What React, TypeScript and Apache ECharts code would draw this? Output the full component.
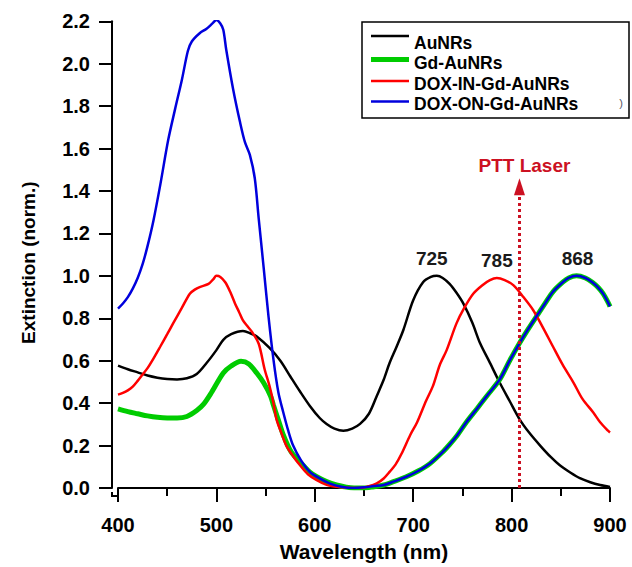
import React, { useEffect, useRef } from "react";
import * as echarts from "echarts";

// ---- Data ----
const xTicks = [400, 500, 600, 700, 800, 900];

const auWl = [400, 410, 420, 430, 440, 450, 460, 470, 480, 490, 500, 507, 515, 527, 535, 541, 554, 565, 575, 585, 595, 605, 612, 620, 629, 638, 646, 655, 663, 670, 676, 683, 690, 700, 710, 718, 724, 730, 737, 744, 751, 760, 768, 778, 788, 798, 808, 818, 829, 840, 849, 860, 870, 880, 890, 900];
const auVal = [0.577, 0.56, 0.545, 0.53, 0.52, 0.514, 0.512, 0.517, 0.537, 0.589, 0.65, 0.698, 0.725, 0.74, 0.728, 0.714, 0.66, 0.6, 0.527, 0.455, 0.387, 0.33, 0.302, 0.28, 0.27, 0.28, 0.302, 0.35, 0.434, 0.51, 0.589, 0.665, 0.745, 0.885, 0.97, 0.995, 1.0, 0.99, 0.962, 0.92, 0.869, 0.78, 0.682, 0.59, 0.496, 0.41, 0.325, 0.26, 0.2, 0.145, 0.107, 0.072, 0.045, 0.027, 0.014, 0.005];

const gdWl = [400, 410, 420, 430, 440, 450, 460, 470, 480, 487, 495, 507, 515, 525, 533, 541, 548, 555, 558, 563, 568, 576, 585, 595, 602, 612, 622, 632, 640, 650, 660, 670, 680, 693, 705, 717, 730, 737, 745, 754, 765, 775, 788, 798, 808, 817, 825, 834, 842, 852, 858, 866, 875, 882, 888, 893, 898, 900];
const gdVal = [0.373, 0.36, 0.35, 0.34, 0.333, 0.33, 0.33, 0.337, 0.365, 0.395, 0.45, 0.542, 0.575, 0.597, 0.585, 0.542, 0.496, 0.434, 0.39, 0.32, 0.25, 0.17, 0.123, 0.075, 0.053, 0.03, 0.014, 0.004, 0.0, 0.0, 0.006, 0.014, 0.03, 0.053, 0.08, 0.115, 0.17, 0.205, 0.25, 0.31, 0.375, 0.435, 0.512, 0.6, 0.682, 0.75, 0.807, 0.87, 0.925, 0.97, 0.99, 1.0, 0.99, 0.97, 0.945, 0.916, 0.875, 0.855];

const inWl = [400, 405, 410, 415, 420, 425, 430, 436, 443, 450, 456, 465, 473, 478, 483, 492, 497, 500, 504, 509, 514, 519, 523, 527, 532, 536, 543, 549, 554, 558, 561, 566, 571, 578, 585, 593, 602, 612, 622, 634, 646, 655, 663, 670, 676, 682, 688, 697, 704, 713, 720, 727, 734, 744, 752, 761, 770, 778, 785, 793, 802, 812, 822, 832, 842, 852, 863, 872, 883, 890, 898, 900];
const inVal = [0.44, 0.448, 0.46, 0.478, 0.505, 0.535, 0.565, 0.61, 0.667, 0.725, 0.776, 0.85, 0.916, 0.935, 0.947, 0.962, 0.985, 1.0, 0.995, 0.97, 0.925, 0.869, 0.83, 0.79, 0.76, 0.737, 0.68, 0.56, 0.48, 0.4, 0.325, 0.26, 0.2, 0.15, 0.107, 0.065, 0.037, 0.015, 0.006, 0.001, 0.0, 0.008, 0.022, 0.045, 0.076, 0.11, 0.16, 0.25, 0.31, 0.41, 0.48, 0.58, 0.65, 0.776, 0.85, 0.916, 0.955, 0.98, 0.99, 0.98, 0.955, 0.9, 0.838, 0.755, 0.667, 0.58, 0.496, 0.42, 0.356, 0.31, 0.27, 0.262];

const onWl = [400, 405, 410, 415, 420, 425, 430, 436, 443, 451, 458, 465, 471, 475, 483, 490, 496, 500, 504, 507, 510, 517, 524, 529, 534, 539, 543, 548, 553, 558, 563, 568, 573, 578, 586, 595, 605, 615, 627, 639, 650, 660, 670, 680, 693, 705, 717, 730, 737, 745, 754, 765, 775, 788, 798, 808, 817, 825, 834, 842, 852, 858, 866, 875, 882, 888, 893, 898, 900];
const onVal = [0.846, 0.87, 0.9, 0.94, 0.99, 1.055, 1.14, 1.26, 1.43, 1.64, 1.786, 1.926, 2.06, 2.105, 2.144, 2.165, 2.19, 2.206, 2.19, 2.16, 2.066, 1.88, 1.725, 1.63, 1.57, 1.46, 1.27, 1.04, 0.807, 0.605, 0.45, 0.356, 0.27, 0.2, 0.13, 0.076, 0.045, 0.022, 0.006, 0.0, 0.003, 0.009, 0.014, 0.03, 0.053, 0.08, 0.115, 0.17, 0.205, 0.25, 0.31, 0.375, 0.435, 0.512, 0.6, 0.682, 0.75, 0.807, 0.87, 0.925, 0.97, 0.99, 1.0, 0.99, 0.97, 0.945, 0.916, 0.875, 0.855];

const seriesNames = ["AuNRs", "Gd-AuNRs", "DOX-IN-Gd-AuNRs", "DOX-ON-Gd-AuNRs"];
const peakLabels = [725, 785, 868];
const laserWl = 808;
const laserTop = 1.42;
const laserText = "PTT Laser";

const FONT = '"Liberation Sans", Arial, sans-serif';

function pairs(xs: number[], ys: number[]) {
  return xs.map((x, i) => [x, ys[i]]);
}

const peakLabel = (text: string, dx: number) => ({
  show: true,
  position: "top" as const,
  distance: 8,
  offset: [dx, 0],
  formatter: text,
  color: "#1a1a1a",
  fontFamily: FONT,
  fontWeight: "bold" as const,
  fontSize: 19,
});

export default function App() {
  const ref = useRef<HTMLDivElement>(null);
  useEffect(() => {
    if (!ref.current) return;
    const chart = echarts.init(ref.current, undefined, { renderer: "svg" });
    const legendRows = [
      { name: seriesNames[0], color: "#000000", w: 2.5, y: 36 },
      { name: seriesNames[1], color: "#00cc00", w: 5, y: 59.5 },
      { name: seriesNames[2], color: "#ff0000", w: 2.5, y: 81 },
      { name: seriesNames[3], color: "#0000dd", w: 2.5, y: 101.5 },
    ];
    const textY = [42.5, 63, 83.5, 104];
    const legendGraphics: any[] = [
      {
        type: "rect",
        shape: { x: 362, y: 22, width: 267, height: 96 },
        style: { fill: "#fff", stroke: "#000", lineWidth: 1.5 },
        z: 10,
      },
    ];
    legendRows.forEach((r, i) => {
      legendGraphics.push({
        type: "line",
        shape: { x1: 371, y1: r.y, x2: 409, y2: r.y },
        style: { stroke: r.color, lineWidth: r.w },
        z: 11,
      });
      legendGraphics.push({
        type: "text",
        x: 414,
        y: textY[i],
        style: {
          text: r.name,
          fill: "#000",
          font: `bold 17.5px ${FONT}`,
          lineHeight: 18,
          textVerticalAlign: "middle",
          textAlign: "left",
        },
        z: 11,
      });
    });
    legendGraphics.push({
      type: "text",
      x: 621,
      y: 103,
      style: { text: ")", fill: "#556", font: `11px ${FONT}`, textVerticalAlign: "middle", textAlign: "center" },
      z: 11,
    });
    // close the offset axes at the corner
    legendGraphics.push({
      type: "line",
      shape: { x1: 111, y1: 496, x2: 119, y2: 496 },
      style: { stroke: "#000", lineWidth: 2 },
    });
    legendGraphics.push({
      type: "line",
      shape: { x1: 112, y1: 492, x2: 112, y2: 497 },
      style: { stroke: "#000", lineWidth: 2 },
    });

    chart.setOption({
      animation: false,
      backgroundColor: "#ffffff",
      grid: { left: 118, right: 22, top: 21.3, bottom: 74 },
      xAxis: {
        type: "value",
        min: 400,
        max: 900,
        interval: 100,
        offset: 3,
        name: "Wavelength (nm)",
        nameLocation: "middle",
        nameGap: 50,
        nameTextStyle: { fontFamily: FONT, fontWeight: "bold", fontSize: 21, color: "#000" },
        axisLine: { show: true, lineStyle: { color: "#000", width: 2 } },
        axisTick: { show: true, inside: false, length: 14, lineStyle: { color: "#000", width: 2 } },
        minorTick: { show: true, splitNumber: 2, length: 8, lineStyle: { color: "#000", width: 2 } },
        axisLabel: {
          margin: 24,
          fontFamily: FONT,
          fontWeight: "bold",
          fontSize: 20,
          color: "#000",
          customValues: xTicks,
        },
        splitLine: { show: false },
      },
      yAxis: {
        type: "value",
        min: 0,
        max: 2.2,
        interval: 0.2,
        offset: 6,
        name: "Extinction (norm.)",
        nameLocation: "middle",
        nameGap: 74,
        nameTextStyle: {
          fontFamily: FONT,
          fontWeight: "bold",
          fontSize: 19,
          color: "#000",
          padding: [0, 16, 0, 0],
        },
        axisLine: { show: true, lineStyle: { color: "#000", width: 2 } },
        axisTick: { show: true, inside: false, length: 13, lineStyle: { color: "#000", width: 2 } },
        axisLabel: {
          margin: 22,
          fontFamily: FONT,
          fontWeight: "bold",
          fontSize: 20,
          color: "#000",
          formatter: (v: number) => v.toFixed(1),
        },
        splitLine: { show: false },
      },
      graphic: legendGraphics,
      series: [
        {
          name: seriesNames[0],
          type: "line",
          data: pairs(auWl, auVal),
          showSymbol: false,
          smooth: 0.3,
          lineStyle: { color: "#000000", width: 2.5 },
          itemStyle: { color: "#000000" },
          markPoint: {
            symbol: "circle",
            symbolSize: 0,
            silent: true,
            data: [{ coord: [peakLabels[0], 1.0], label: peakLabel(String(peakLabels[0]), -6) }],
          },
        },
        {
          name: seriesNames[1],
          type: "line",
          data: pairs(gdWl, gdVal),
          showSymbol: false,
          smooth: 0.3,
          lineStyle: { color: "#00cc00", width: 5 },
          itemStyle: { color: "#00cc00" },
          markPoint: {
            symbol: "circle",
            symbolSize: 0,
            silent: true,
            data: [{ coord: [peakLabels[2], 1.0], label: peakLabel(String(peakLabels[2]), -1) }],
          },
        },
        {
          name: seriesNames[2],
          type: "line",
          data: pairs(inWl, inVal),
          showSymbol: false,
          smooth: 0.3,
          lineStyle: { color: "#ff0000", width: 2.5 },
          itemStyle: { color: "#ff0000" },
          markPoint: {
            symbol: "circle",
            symbolSize: 0,
            silent: true,
            data: [{ coord: [peakLabels[1], 0.99], label: peakLabel(String(peakLabels[1]), 0) }],
          },
          markLine: {
            silent: true,
            symbol: ["none", "triangle"],
            symbolSize: [11, 17],
            lineStyle: { color: "#cc1122", type: [3, 3], width: 3 },
            label: {
              show: true,
              position: "end",
              distance: 12,
              offset: [5, 0],
              formatter: laserText,
              color: "#cc1122",
              fontFamily: FONT,
              fontWeight: "bold",
              fontSize: 19,
            },
            data: [[{ coord: [laserWl, 0] }, { coord: [laserWl, laserTop] }]],
          },
        },
        {
          name: seriesNames[3],
          type: "line",
          data: pairs(onWl, onVal),
          showSymbol: false,
          smooth: 0.3,
          lineStyle: { color: "#0000dd", width: 2.5 },
          itemStyle: { color: "#0000dd" },
        },
      ],
    });
    return () => chart.dispose();
  }, []);
  return (
    <div
      ref={ref}
      style={{ position: "fixed", left: 0, top: 0, width: 632, height: 567, background: "#fff" }}
    />
  );
}
